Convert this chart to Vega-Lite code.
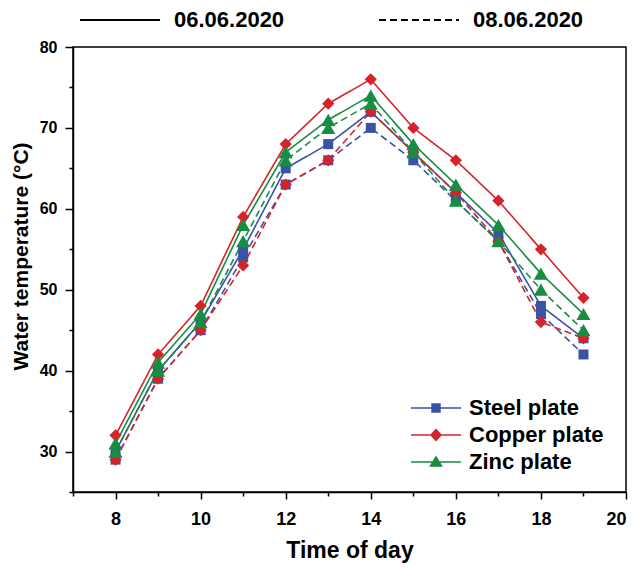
{
  "$schema": "https://vega.github.io/schema/vega-lite/v6.json",
  "width": 553,
  "height": 445,
  "autosize": "none",
  "padding": {"left": 73, "top": 47, "right": 14, "bottom": 78},
  "background": "white",
  "config": {
    "view": {"stroke": "black", "strokeWidth": 1.5},
    "font": "Liberation Sans",
    "axis": {"domainColor": "black", "tickColor": "black", "labelColor": "black", "titleColor": "black", "labelFont": "Liberation Sans", "titleFont": "Liberation Sans", "grid": false, "domainWidth": 1.5, "tickWidth": 1.5},
    "legend": {"labelFont": "Liberation Sans", "labelColor": "black"}
  },
  "data": {"values": [
    {"t":8,"plate":"Steel plate","date":"06.06.2020","temp":30},
    {"t":9,"plate":"Steel plate","date":"06.06.2020","temp":40},
    {"t":10,"plate":"Steel plate","date":"06.06.2020","temp":46},
    {"t":11,"plate":"Steel plate","date":"06.06.2020","temp":55},
    {"t":12,"plate":"Steel plate","date":"06.06.2020","temp":65},
    {"t":13,"plate":"Steel plate","date":"06.06.2020","temp":68},
    {"t":14,"plate":"Steel plate","date":"06.06.2020","temp":72},
    {"t":15,"plate":"Steel plate","date":"06.06.2020","temp":67},
    {"t":16,"plate":"Steel plate","date":"06.06.2020","temp":62},
    {"t":17,"plate":"Steel plate","date":"06.06.2020","temp":57},
    {"t":18,"plate":"Steel plate","date":"06.06.2020","temp":48},
    {"t":19,"plate":"Steel plate","date":"06.06.2020","temp":44},
    {"t":8,"plate":"Steel plate","date":"08.06.2020","temp":29},
    {"t":9,"plate":"Steel plate","date":"08.06.2020","temp":39},
    {"t":10,"plate":"Steel plate","date":"08.06.2020","temp":45},
    {"t":11,"plate":"Steel plate","date":"08.06.2020","temp":54},
    {"t":12,"plate":"Steel plate","date":"08.06.2020","temp":63},
    {"t":13,"plate":"Steel plate","date":"08.06.2020","temp":66},
    {"t":14,"plate":"Steel plate","date":"08.06.2020","temp":70},
    {"t":15,"plate":"Steel plate","date":"08.06.2020","temp":66},
    {"t":16,"plate":"Steel plate","date":"08.06.2020","temp":61},
    {"t":17,"plate":"Steel plate","date":"08.06.2020","temp":56},
    {"t":18,"plate":"Steel plate","date":"08.06.2020","temp":47},
    {"t":19,"plate":"Steel plate","date":"08.06.2020","temp":42},
    {"t":8,"plate":"Copper plate","date":"06.06.2020","temp":32},
    {"t":9,"plate":"Copper plate","date":"06.06.2020","temp":42},
    {"t":10,"plate":"Copper plate","date":"06.06.2020","temp":48},
    {"t":11,"plate":"Copper plate","date":"06.06.2020","temp":59},
    {"t":12,"plate":"Copper plate","date":"06.06.2020","temp":68},
    {"t":13,"plate":"Copper plate","date":"06.06.2020","temp":73},
    {"t":14,"plate":"Copper plate","date":"06.06.2020","temp":76},
    {"t":15,"plate":"Copper plate","date":"06.06.2020","temp":70},
    {"t":16,"plate":"Copper plate","date":"06.06.2020","temp":66},
    {"t":17,"plate":"Copper plate","date":"06.06.2020","temp":61},
    {"t":18,"plate":"Copper plate","date":"06.06.2020","temp":55},
    {"t":19,"plate":"Copper plate","date":"06.06.2020","temp":49},
    {"t":8,"plate":"Copper plate","date":"08.06.2020","temp":29},
    {"t":9,"plate":"Copper plate","date":"08.06.2020","temp":39},
    {"t":10,"plate":"Copper plate","date":"08.06.2020","temp":45},
    {"t":11,"plate":"Copper plate","date":"08.06.2020","temp":53},
    {"t":12,"plate":"Copper plate","date":"08.06.2020","temp":63},
    {"t":13,"plate":"Copper plate","date":"08.06.2020","temp":66},
    {"t":14,"plate":"Copper plate","date":"08.06.2020","temp":72},
    {"t":15,"plate":"Copper plate","date":"08.06.2020","temp":67},
    {"t":16,"plate":"Copper plate","date":"08.06.2020","temp":62},
    {"t":17,"plate":"Copper plate","date":"08.06.2020","temp":56},
    {"t":18,"plate":"Copper plate","date":"08.06.2020","temp":46},
    {"t":19,"plate":"Copper plate","date":"08.06.2020","temp":44},
    {"t":8,"plate":"Zinc plate","date":"06.06.2020","temp":31},
    {"t":9,"plate":"Zinc plate","date":"06.06.2020","temp":41},
    {"t":10,"plate":"Zinc plate","date":"06.06.2020","temp":47},
    {"t":11,"plate":"Zinc plate","date":"06.06.2020","temp":58},
    {"t":12,"plate":"Zinc plate","date":"06.06.2020","temp":67},
    {"t":13,"plate":"Zinc plate","date":"06.06.2020","temp":71},
    {"t":14,"plate":"Zinc plate","date":"06.06.2020","temp":74},
    {"t":15,"plate":"Zinc plate","date":"06.06.2020","temp":68},
    {"t":16,"plate":"Zinc plate","date":"06.06.2020","temp":63},
    {"t":17,"plate":"Zinc plate","date":"06.06.2020","temp":58},
    {"t":18,"plate":"Zinc plate","date":"06.06.2020","temp":52},
    {"t":19,"plate":"Zinc plate","date":"06.06.2020","temp":47},
    {"t":8,"plate":"Zinc plate","date":"08.06.2020","temp":30},
    {"t":9,"plate":"Zinc plate","date":"08.06.2020","temp":40},
    {"t":10,"plate":"Zinc plate","date":"08.06.2020","temp":46},
    {"t":11,"plate":"Zinc plate","date":"08.06.2020","temp":56},
    {"t":12,"plate":"Zinc plate","date":"08.06.2020","temp":66},
    {"t":13,"plate":"Zinc plate","date":"08.06.2020","temp":70},
    {"t":14,"plate":"Zinc plate","date":"08.06.2020","temp":73},
    {"t":15,"plate":"Zinc plate","date":"08.06.2020","temp":67},
    {"t":16,"plate":"Zinc plate","date":"08.06.2020","temp":61},
    {"t":17,"plate":"Zinc plate","date":"08.06.2020","temp":56},
    {"t":18,"plate":"Zinc plate","date":"08.06.2020","temp":50},
    {"t":19,"plate":"Zinc plate","date":"08.06.2020","temp":45}
  ]},
  "resolve": {"scale": {"shape": "independent", "fill": "independent", "stroke": "independent"}, "axis": {"x": "independent", "y": "independent"}},
  "layer": [
    {
      "mark": {"type": "line", "strokeWidth": 1.6},
      "encoding": {
        "x": {"field": "t", "type": "quantitative", "scale": {"domain": [7, 20], "nice": false, "zero": false},
          "axis": {"orient": "bottom", "values": [8, 10, 12, 14, 16, 18, 20], "tickSize": 7, "labelPadding": 11, "labelFontSize": 18, "labelFontWeight": "bold", "title": "Time of day", "titleFontSize": 23, "titleFontWeight": "bold", "titlePadding": 11}},
        "y": {"field": "temp", "type": "quantitative", "scale": {"domain": [25, 80], "nice": false, "zero": false},
          "axis": {"orient": "left", "values": [30, 40, 50, 60, 70, 80], "tickSize": 8, "labelPadding": 8, "labelFontSize": 16, "labelFontWeight": "bold", "title": "Water temperature (°C)", "titleFontSize": 21, "titleFontWeight": "bold", "titlePadding": 8, "titleY": 209}},
        "color": {"field": "plate", "type": "nominal", "scale": {"domain": ["Steel plate", "Copper plate", "Zinc plate"], "range": ["#3953a6", "#d6232a", "#178c43"]}, "legend": null},
        "strokeDash": {"field": "date", "type": "nominal", "scale": {"domain": ["06.06.2020", "08.06.2020"], "range": [[1, 0], [7, 4]]},
          "legend": {"orient": "none", "legendX": 36, "legendY": -38, "direction": "horizontal", "title": null, "padding": 0,
            "symbolType": "M-4,0H4", "symbolSize": 400, "symbolStrokeColor": "black", "symbolStrokeWidth": 2,
            "labelFontSize": 22, "labelFontWeight": "bold", "labelOffset": 43, "columnPadding": 90, "labelLimit": 0}}
      }
    },
    {
      "mark": {"type": "point", "filled": true, "opacity": 1},
      "encoding": {
        "x": {"field": "t", "type": "quantitative", "axis": {"orient": "bottom", "values": [7, 9, 11, 13, 15, 17, 19], "labels": false, "domain": false, "tickSize": 4, "title": null}},
        "y": {"field": "temp", "type": "quantitative", "axis": {"orient": "left", "values": [25, 35, 45, 55, 65, 75], "labels": false, "domain": false, "tickSize": 4, "title": null}},
        "color": {"field": "plate", "type": "nominal", "legend": null},
        "size": {"field": "plate", "type": "nominal", "scale": {"domain": ["Steel plate", "Copper plate", "Zinc plate"], "range": [100, 200, 170]}, "legend": null},
        "shape": {"field": "plate", "type": "nominal", "scale": {"domain": ["Steel plate", "Copper plate", "Zinc plate"], "range": ["square", "diamond", "triangle-up"]}, "legend": null}
      }
    },
    {
      "mark": {"type": "point", "filled": true, "opacity": 0},
      "encoding": {
        "x": {"field": "t", "type": "quantitative", "axis": null},
        "y": {"field": "temp", "type": "quantitative", "axis": null},
        "fill": {"field": "plate", "type": "nominal",
          "scale": {"domain": ["Steel plate", "Copper plate", "Zinc plate"], "range": ["#3953a6", "#d6232a", "#178c43"]},
          "legend": {"orient": "none", "legendX": 352, "legendY": 350, "title": null, "padding": 0,
            "symbolSize": 400, "symbolStrokeWidth": 1.5, "symbolOpacity": 1, "symbolFillColor": "black", "symbolStrokeColor": "black",
            "labelFontSize": 22, "labelFontWeight": "bold", "labelOffset": 22, "rowPadding": 5, "labelLimit": 0}},
        "stroke": {"field": "plate", "type": "nominal",
          "scale": {"domain": ["Steel plate", "Copper plate", "Zinc plate"], "range": ["#3953a6", "#d6232a", "#178c43"]},
          "legend": {"orient": "none", "legendX": 352, "legendY": 350, "title": null, "padding": 0,
            "symbolSize": 400, "symbolStrokeWidth": 1.5, "symbolOpacity": 1, "symbolFillColor": "black", "symbolStrokeColor": "black",
            "labelFontSize": 22, "labelFontWeight": "bold", "labelOffset": 22, "rowPadding": 5, "labelLimit": 0}},
        "shape": {"field": "plate", "type": "nominal",
          "scale": {"domain": ["Steel plate", "Copper plate", "Zinc plate"], "range": ["M-2.5,0H2.5M-0.4,-0.4H0.4V0.4H-0.4Z", "M-2.5,0H2.5M0,-0.55L0.5,0L0,0.55L-0.5,0Z", "M-2.5,0H2.5M0,-0.5L0.55,0.4L-0.55,0.4Z"]},
          "legend": {"orient": "none", "legendX": 352, "legendY": 350, "title": null, "padding": 0,
            "symbolSize": 400, "symbolStrokeWidth": 1.5, "symbolOpacity": 1, "symbolFillColor": "black", "symbolStrokeColor": "black",
            "labelFontSize": 22, "labelFontWeight": "bold", "labelOffset": 22, "rowPadding": 5, "labelLimit": 0}}
      }
    }
  ]
}
